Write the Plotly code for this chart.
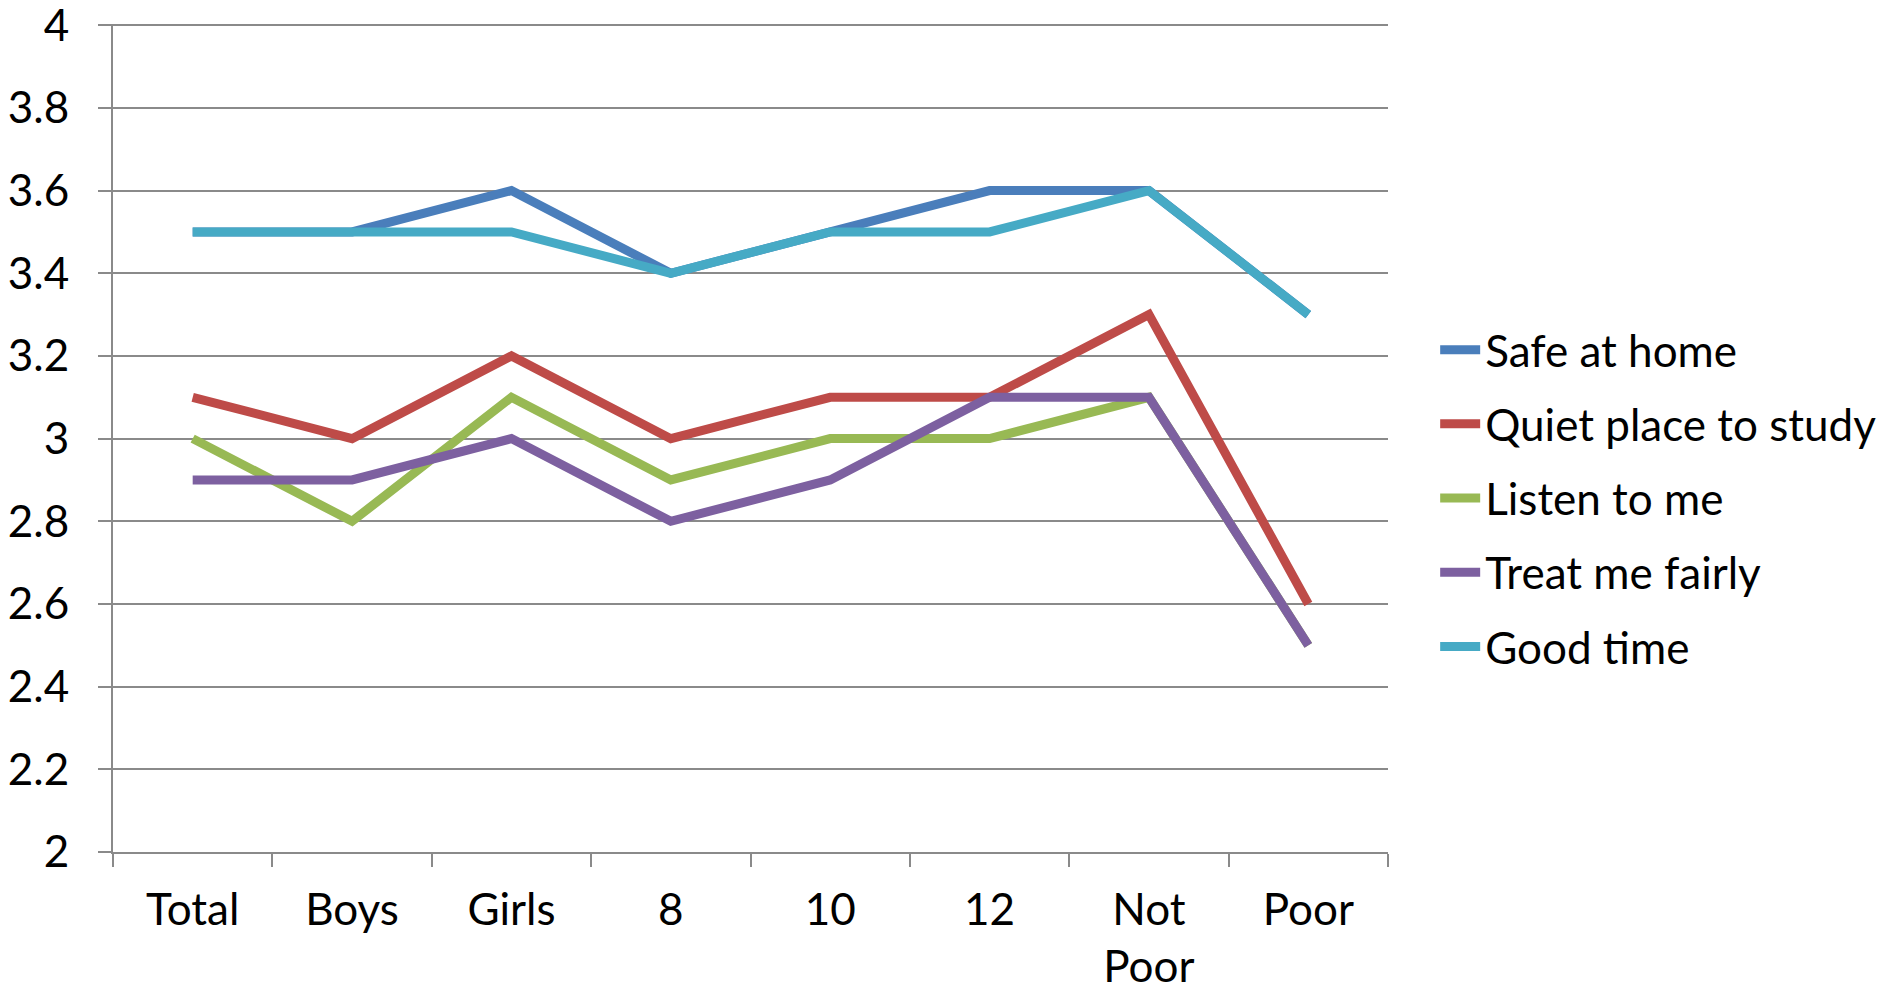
import plotly.graph_objects as go

categories = ["Total", "Boys", "Girls", "8", "10", "12", "Not<br>Poor", "Poor"]
y_ticks = [2, 2.2, 2.4, 2.6, 2.8, 3, 3.2, 3.4, 3.6, 3.8, 4]
y_tick_labels = ["2", "2.2", "2.4", "2.6", "2.8", "3", "3.2", "3.4", "3.6", "3.8", "4"]

safe_at_home = [3.5, 3.5, 3.6, 3.4, 3.5, 3.6, 3.6, 3.3]
quiet_place = [3.1, 3.0, 3.2, 3.0, 3.1, 3.1, 3.3, 2.6]
listen_to_me = [3.0, 2.8, 3.1, 2.9, 3.0, 3.0, 3.1, 2.5]
treat_fairly = [2.9, 2.9, 3.0, 2.8, 2.9, 3.1, 3.1, 2.5]
good_time = [3.5, 3.5, 3.5, 3.4, 3.5, 3.5, 3.6, 3.3]

series = [
    ("Safe at home", safe_at_home, "#4A7EBB"),
    ("Quiet place to study", quiet_place, "#BE4B48"),
    ("Listen to me", listen_to_me, "#98B954"),
    ("Treat me fairly", treat_fairly, "#7D60A0"),
    ("Good time", good_time, "#46AAC5"),
]

fig = go.Figure()
for name, vals, color in series:
    fig.add_trace(go.Scatter(x=categories, y=vals, mode="lines", name=name,
                             legendgroup=name,
                             line=dict(color=color, width=9)))

grid = "#8a8a8a"
# page body adds ~8px margin, so the figure is a little smaller than the window
fig.update_layout(
    width=1871, height=974,
    paper_bgcolor="white", plot_bgcolor="white",
    margin=dict(l=105, r=491, t=16, b=130, autoexpand=False),
    font=dict(family="Lato, 'Open Sans', sans-serif", size=44, color="black"),
    showlegend=True,
    legend=dict(x=1.037, xanchor="left", y=0.4275, yanchor="middle",
                tracegroupgap=14, traceorder="grouped",
                font=dict(size=44), itemwidth=40, bgcolor="rgba(0,0,0,0)"),
    xaxis=dict(range=[-0.5, 7.5], automargin=False, showgrid=False,
               showline=True, linecolor=grid, linewidth=2,
               ticks="outside", tickson="boundaries", ticklen=13,
               tickcolor=grid, tickwidth=2, ticklabelstandoff=18,
               tickfont=dict(size=44)),
    yaxis=dict(range=[2, 4.003], tickmode="array", tickvals=y_ticks,
               ticktext=y_tick_labels, automargin=False,
               ticklabeloverflow="allow",
               showgrid=True, gridcolor=grid, gridwidth=2, showline=True,
               linecolor=grid, linewidth=2, ticks="outside", ticklen=13,
               tickcolor=grid, tickwidth=2, ticklabelstandoff=20,
               zeroline=False, tickfont=dict(size=44)),
)

fig.write_html("out.html")
